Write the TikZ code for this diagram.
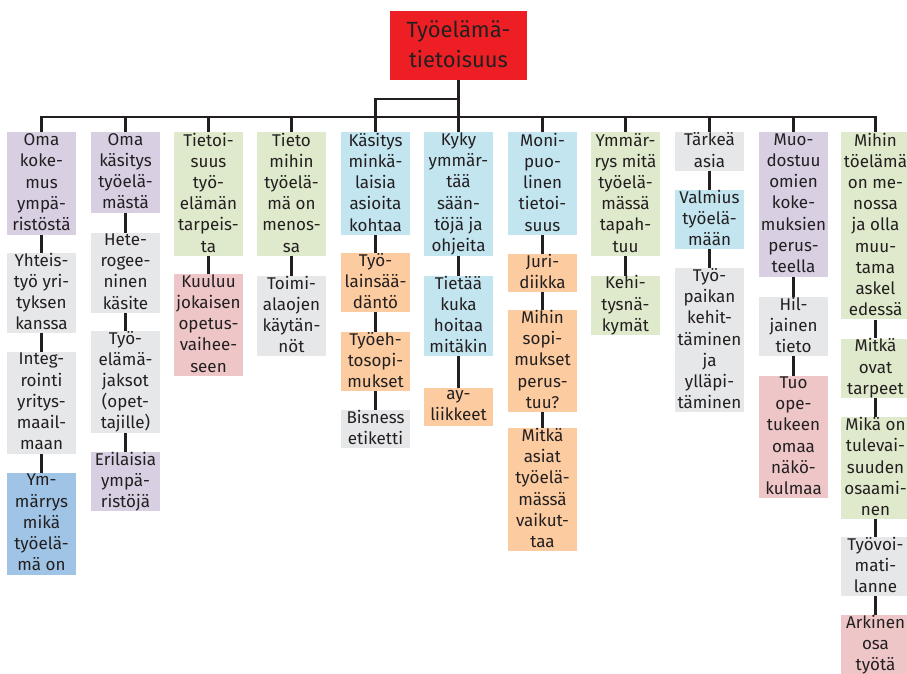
\documentclass[tikz,border=0pt]{standalone}
\usepackage{fontspec}
\setmainfont{Fira Sans}
\definecolor{tred}{HTML}{EE1F24}
\definecolor{tpur}{HTML}{D8CFE3}
\definecolor{tgra}{HTML}{E6E7E9}
\definecolor{tgrn}{HTML}{DEEACB}
\definecolor{tpnk}{HTML}{EEC6C7}
\definecolor{tblu}{HTML}{C3E5F0}
\definecolor{tdbl}{HTML}{A0C4E6}
\definecolor{tora}{HTML}{FCCCA0}
\definecolor{tink}{HTML}{231F20}
\newcommand\stSmall{\rule[-3pt]{0pt}{19pt}}
\newcommand\stBig{\rule[-3pt]{0pt}{23pt}}
\tikzset{
 box/.style={rectangle, inner sep=0pt, minimum width=69pt, align=center, text=tink,
   font=\fontsize{17}{21.2}\selectfont,
   execute at begin node=\stSmall,
   execute at end node=\stSmall},
 link/.style={draw=tink, line width=2.8pt}
}
\newcommand\bx[6]{\node[box, fill=#5, minimum height={(#4-#3)*1pt}] (#1) at (#2,{(#3+#4)/2}) {#6};}
\begin{document}
\begin{tikzpicture}[x=1pt,y=-1pt]
\useasboundingbox (0,0) rectangle (907,674);
\node[box, fill=tred, minimum width=137pt, minimum height=69pt,
  font=\fontsize{22}{30}\selectfont,
  execute at begin node=\stBig,
  execute at end node=\stBig] (top) at (458.5,45.5) {Työelämä-\\tietoisuus};
% column 1
\bx{a1}{41.5}{132.3}{235}{tpur}{Oma\\koke-\\mus\\ympä-\\ristöstä}
\bx{a2}{41.5}{252.7}{332.7}{tgra}{Yhteis-\\työ yri-\\tyksen\\kanssa}
\bx{a3}{41.5}{352}{454}{tgra}{Integ-\\rointi\\yritys-\\maail-\\maan}
\bx{a4}{41.5}{473}{575}{tdbl}{Ym-\\märrys\\mikä\\työelä-\\mä on}
% column 2
\bx{b1}{125.5}{132.3}{212.7}{tpur}{Oma\\käsitys\\työelä-\\mästä}
\bx{b2}{125.5}{233}{312.7}{tgra}{Hete-\\rogee-\\ninen\\käsite}
\bx{b3}{125.5}{331}{432.7}{tgra}{Työ-\\elämä-\\jaksot\\(opet-\\tajille)}
\bx{b4}{125.5}{452}{511}{tpur}{Erilaisia\\ympä-\\ristöjä}
% column 3
\bx{c1}{208.5}{132.3}{255.7}{tgrn}{Tietoi-\\suus\\työ-\\elämän\\tarpeis-\\ta}
\bx{c2}{208.5}{274}{375.7}{tpnk}{Kuuluu\\jokaisen\\opetus-\\vaihee-\\seen}
% column 4
\bx{d1}{291.5}{132.3}{255.7}{tgrn}{Tieto\\mihin\\työelä-\\mä on\\menos-\\sa}
\bx{d2}{291.5}{276}{355.7}{tgra}{Toimi-\\alaojen\\käytän-\\nöt}
% column 5
\bx{e1}{375.5}{132.3}{235}{tblu}{Käsitys\\minkä-\\laisia\\asioita\\kohtaa}
\bx{e2}{375.5}{253}{311.7}{tora}{Työ-\\lainsää-\\däntö}
\bx{e3}{375.5}{332}{390.7}{tora}{Työeh-\\tosopi-\\mukset}
\bx{e4}{375.5}{410}{447.7}{tgra}{Bisness\\etiketti}
% column 6
\bx{f1}{458.5}{132.3}{255.7}{tblu}{Kyky\\ymmär-\\tää\\sään-\\töjä ja\\ohjeita}
\bx{f2}{458.5}{276}{355.7}{tblu}{Tietää\\kuka\\hoitaa\\mitäkin}
\bx{f3}{458.5}{388}{425.7}{tora}{ay-\\liikkeet}
% column 7
\bx{g1}{542.5}{132.3}{235}{tblu}{Moni-\\puo-\\linen\\tietoi-\\suus}
\bx{g2}{542.5}{254}{291.7}{tora}{Juri-\\diikka}
\bx{g3}{542.5}{310}{411.7}{tora}{Mihin\\sopi-\\mukset\\perus-\\tuu?}
\bx{g4}{542.5}{428}{550.7}{tora}{Mitkä\\asiat\\työelä-\\mässä\\vaikut-\\taa}
% column 8
\bx{h1}{625.5}{132.3}{255.7}{tgrn}{Ymmär-\\rys mitä\\työelä-\\mässä\\tapah-\\tuu}
\bx{h2}{625.5}{276}{334.7}{tgrn}{Kehi-\\tysnä-\\kymät}
% column 9
\bx{i1}{709.5}{132.3}{170.7}{tgra}{Tärkeä\\asia}
\bx{i2}{709.5}{190}{249}{tblu}{Valmius\\työelä-\\mään}
\bx{i3}{709.5}{268.3}{411.7}{tgra}{Työ-\\paikan\\kehit-\\täminen\\ja\\ylläpi-\\täminen}
% column 10
\bx{j1}{793.5}{132.3}{276.7}{tpur}{Muo-\\dostuu\\omien\\koke-\\muksien\\perus-\\teella}
\bx{j2}{793.5}{297.3}{355.7}{tgra}{Hil-\\jainen\\tieto}
\bx{j3}{793.5}{376}{498.3}{tpnk}{Tuo\\ope-\\tukeen\\omaa\\näkö-\\kulmaa}
% column 11
\bx{k1}{875.5}{132.3}{319.3}{tgrn}{Mihin\\töelämä\\on me-\\nossa\\ja olla\\muu-\\tama\\askel\\edessä}
\bx{k2}{875.5}{338.7}{397.7}{tgrn}{Mitkä\\ovat\\tarpeet}
\bx{k3}{875.5}{417.3}{518.7}{tgrn}{Mikä on\\tulevai-\\suuden\\osaami-\\nen}
\bx{k4}{875.5}{537.3}{595.7}{tgra}{Työvoi-\\mati-\\lanne}
\bx{k5}{875.5}{615}{674}{tpnk}{Arkinen\\osa\\työtä}
% connectors
\coordinate (bar) at (0,117);
\coordinate (stp) at (0,99);
\draw[link] (a1.north) -- (a1.north |- bar) -- (k1.north |- bar) -- (k1.north);
\draw[link] (top.south) -- (f1.north);
\draw[link] (top.south |- stp) -- (e1.north |- stp) -- (e1.north);
\foreach \n in {b1,c1,d1,g1,h1,i1,j1}{\draw[link] (\n.north |- bar) -- (\n.north);}
\foreach \u/\v in {a1/a2,a2/a3,a3/a4,b1/b2,b2/b3,b3/b4,c1/c2,d1/d2,e1/e2,e2/e3,e3/e4,f1/f2,f2/f3,g1/g2,g2/g3,g3/g4,h1/h2,i1/i2,i2/i3,j1/j2,j2/j3,k1/k2,k2/k3,k3/k4,k4/k5}{\draw[link] (\u.south) -- (\v.north);}
\end{tikzpicture}
\end{document}
